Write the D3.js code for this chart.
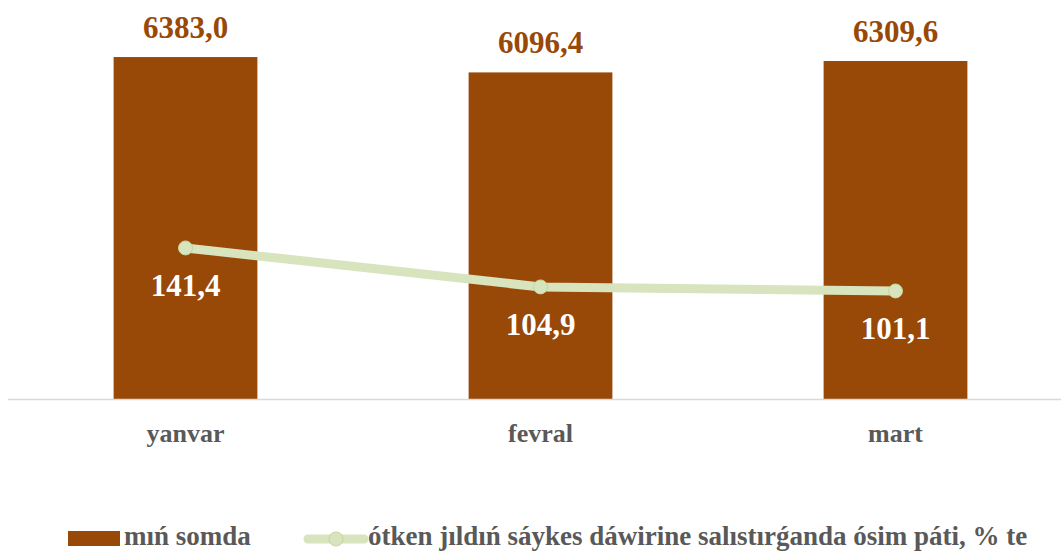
<!DOCTYPE html>
<html>
<head>
<meta charset="utf-8">
<script src="https://cdn.jsdelivr.net/npm/d3@7"></script>
<style>
  body { margin: 0; background: #fff; }
</style>
</head>
<body>
<div id="chart"></div>
<script>
var months = ["yanvar", "fevral", "mart"];
var sums = [6383.0, 6096.4, 6309.6];
var growth = [141.4, 104.9, 101.1];
var legendLabels = ["mıń somda", "ótken jıldıń sáykes dáwirine salıstırǵanda ósim páti, % te"];

var width = 1061, height = 551;
var barColor = "#984807", lineColor = "#d7e4bd";
var serif = "'Liberation Serif', 'Times New Roman', serif";
var fmt = function(v) { return v.toFixed(1).replace(".", ","); };

var svg = d3.select("#chart")
  .append("svg")
    .attr("width", width)
    .attr("height", height)
    .attr("font-family", serif)
    .attr("font-weight", "bold");

var x = d3.scaleBand()
  .domain(months)
  .range([8, 1073])
  .paddingInner(0.595)
  .paddingOuter(0.2975);

var y = d3.scaleLinear()
  .domain([0, 7000])
  .range([399, 24]);

var y2 = d3.scaleLinear()
  .domain([0, 351])
  .range([399, 24]);

// bars
svg.selectAll("rect.bar")
  .data(sums)
  .enter()
  .append("rect")
    .attr("class", "bar")
    .attr("x", function(d, i) { return x(months[i]); })
    .attr("y", function(d) { return y(d); })
    .attr("width", x.bandwidth())
    .attr("height", function(d) { return y(0) - y(d); })
    .style("fill", barColor);

// x axis line
svg.append("line")
  .attr("x1", 8).attr("x2", width)
  .attr("y1", 399.5).attr("y2", 399.5)
  .style("stroke", "#d9d9d9")
  .style("stroke-width", 1.5);

// bar labels
svg.selectAll("text.barlab")
  .data(sums)
  .enter()
  .append("text")
    .attr("class", "barlab")
    .attr("x", function(d, i) { return x(months[i]) + x.bandwidth() / 2; })
    .attr("y", function(d) { return y(d) - 19; })
    .attr("text-anchor", "middle")
    .style("font-size", "31px")
    .style("fill", barColor)
    .text(fmt);

// line
var line = d3.line()
  .x(function(d, i) { return x(months[i]) + x.bandwidth() / 2; })
  .y(function(d) { return y2(d); });

svg.append("path")
  .datum(growth)
  .attr("d", line)
  .style("fill", "none")
  .style("stroke", lineColor)
  .style("stroke-width", 9);

svg.selectAll("circle.pt")
  .data(growth)
  .enter()
  .append("circle")
    .attr("class", "pt")
    .attr("cx", function(d, i) { return x(months[i]) + x.bandwidth() / 2; })
    .attr("cy", function(d) { return y2(d); })
    .attr("r", 7)
    .style("fill", lineColor)
    .style("stroke", "#c3d69b")
    .style("stroke-width", 1);

svg.selectAll("text.linelab")
  .data(growth)
  .enter()
  .append("text")
    .attr("class", "linelab")
    .attr("x", function(d, i) { return x(months[i]) + x.bandwidth() / 2; })
    .attr("y", function(d) { return y2(d) + 48; })
    .attr("text-anchor", "middle")
    .style("font-size", "31px")
    .style("fill", "#ffffff")
    .text(fmt);

// category labels
svg.selectAll("text.cat")
  .data(months)
  .enter()
  .append("text")
    .attr("class", "cat")
    .attr("x", function(d) { return x(d) + x.bandwidth() / 2; })
    .attr("y", 442)
    .attr("text-anchor", "middle")
    .style("font-size", "26px")
    .style("fill", "#595959")
    .text(function(d) { return d; });

// legend
var lg = svg.append("g");
lg.append("rect")
  .attr("x", 68).attr("y", 531)
  .attr("width", 52).attr("height", 15)
  .style("fill", barColor);
lg.append("text")
  .attr("x", 124).attr("y", 545)
  .style("font-size", "27px")
  .style("fill", "#595959")
  .text(legendLabels[0]);
lg.append("line")
  .attr("x1", 308).attr("x2", 364)
  .attr("y1", 539).attr("y2", 539)
  .style("stroke", lineColor)
  .style("stroke-width", 9)
  .style("stroke-linecap", "round");
lg.append("circle")
  .attr("cx", 336).attr("cy", 539).attr("r", 7)
  .style("fill", lineColor)
  .style("stroke", "#c3d69b");
lg.append("text")
  .attr("x", 368).attr("y", 545)
  .style("font-size", "27px")
  .style("fill", "#595959")
  .text(legendLabels[1]);
</script>
</body>
</html>
